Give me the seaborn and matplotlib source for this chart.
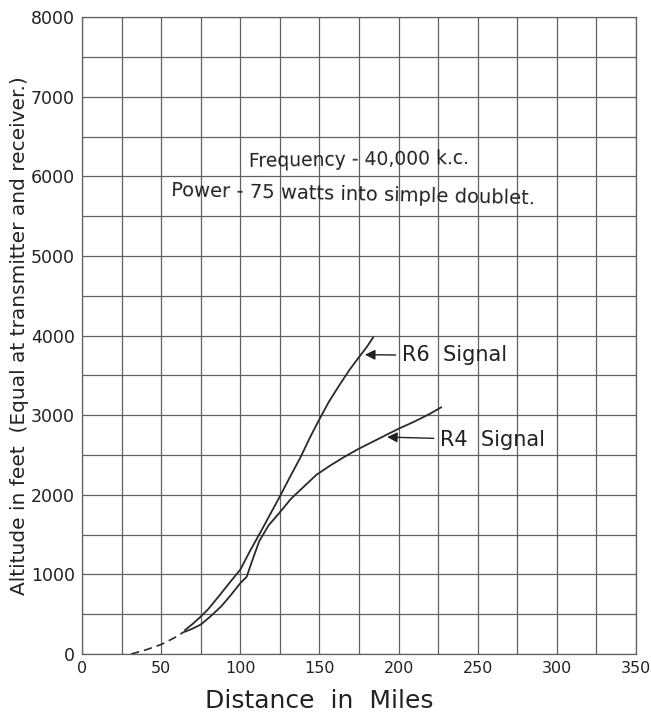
import matplotlib
matplotlib.use("Agg")
import matplotlib.pyplot as plt
import seaborn as sns
import pandas as pd

# --- data ---
dash_x = [31, 40, 50, 58, 65]
dash_y = [0, 50, 120, 200, 285]

r6_x = [65, 70, 75, 80, 87, 93, 100, 106, 113, 119, 125, 131, 138, 144, 150, 156, 163, 169, 175, 180, 184]
r6_y = [300, 380, 470, 570, 740, 890, 1060, 1290, 1540, 1760, 1980, 2210, 2470, 2720, 2950, 3170, 3390, 3570, 3730, 3860, 3980]

r4_x = [65, 70, 75, 81, 88, 94, 100, 104, 108, 112, 118, 125, 132, 140, 148, 157, 166, 175, 190, 200, 210, 220, 227]
r4_y = [280, 320, 370, 470, 600, 740, 890, 970, 1200, 1420, 1620, 1780, 1950, 2100, 2250, 2370, 2480, 2580, 2730, 2830, 2920, 3020, 3100]

x_ticks = [0, 50, 100, 150, 200, 250, 300, 350]
y_ticks = [0, 1000, 2000, 3000, 4000, 5000, 6000, 7000, 8000]

sns.set_style("white")
plt.rcParams['font.family'] = ['DejaVu Sans']

fig = plt.figure(figsize=(6.51, 7.14), dpi=100)
ax = fig.add_axes([0.126, 0.084, 0.851, 0.892])

grid_c = "#606060"
for gx in range(0, 351, 25):
    ax.axvline(gx, color=grid_c, lw=0.9, zorder=0)
for gy in range(0, 8001, 500):
    ax.axhline(gy, color=grid_c, lw=0.9, zorder=0)

df6 = pd.DataFrame({"x": r6_x, "y": r6_y})
df4 = pd.DataFrame({"x": r4_x, "y": r4_y})
dfd = pd.DataFrame({"x": dash_x, "y": dash_y})
sns.lineplot(data=df6, x="x", y="y", sort=False, ax=ax, color="#2a2a2a", lw=1.3)
sns.lineplot(data=df4, x="x", y="y", sort=False, ax=ax, color="#2a2a2a", lw=1.3)
sns.lineplot(data=dfd, x="x", y="y", sort=False, ax=ax, color="#2a2a2a", lw=1.2, linestyle=(0, (5, 3)))

ax.set_xlim(0, 350)
ax.set_ylim(0, 8000)
ax.set_xticks(x_ticks)
ax.set_yticks(y_ticks)
ax.set_xticklabels([str(v) for v in x_ticks], fontsize=11.5, color="#222")
ax.set_yticklabels([str(v) for v in y_ticks], fontsize=12.5, color="#222")
ax.tick_params(length=0, pad=5)
for s in ax.spines.values():
    s.set_color(grid_c)
    s.set_linewidth(0.9)

ax.set_xlabel("Distance  in  Miles", fontsize=18, color="#222")
ax.xaxis.set_label_coords(0.4286, -0.055)
ax.set_ylabel("Altitude in feet  (Equal at transmitter and receiver.)", fontsize=14.5,
              color="#222")
ax.yaxis.set_label_coords(-0.095, 0.50)

ax.text(175, 6206, "Frequency - 40,000 k.c.", fontsize=13.5, color="#222",
        ha="center", va="center", rotation=0.8)
ax.text(171, 5766, "Power - 75 watts into simple doublet.", fontsize=14, color="#222",
        ha="center", va="center", rotation=-1.3)

ax.annotate("R6  Signal", xy=(177, 3760), xytext=(202, 3750), fontsize=15,
            color="#222", va="center",
            arrowprops=dict(arrowstyle="-|>", color="#222", lw=1.0))
ax.annotate("R4  Signal", xy=(191, 2726), xytext=(226, 2690), fontsize=15,
            color="#222", va="center",
            arrowprops=dict(arrowstyle="-|>", color="#222", lw=1.0))

fig.savefig("out.png", dpi=100, facecolor="white")
